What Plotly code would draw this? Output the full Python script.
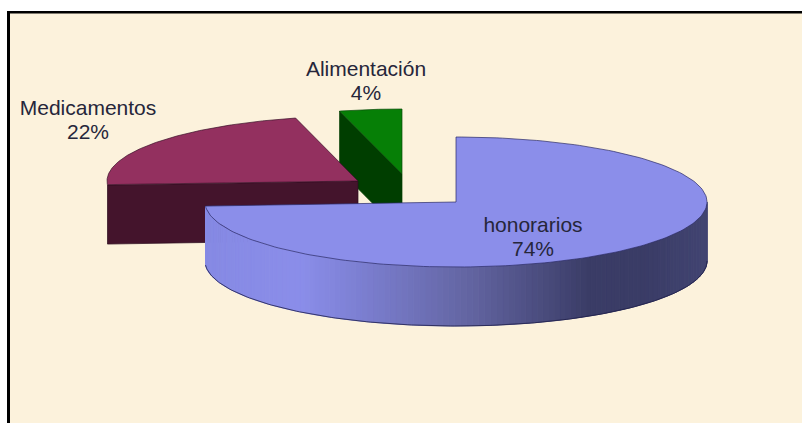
import numpy as np
import plotly.graph_objects as go

categories = ["honorarios", "Medicamentos", "Alimentación"]
values = [74, 22, 4]
top_colors = ["#8B8EEA", "#93305F", "#067F06"]
side_colors = ["#8B8EEA", "#44142C", "#003E00"]

RX, RY, DEPTH = 251, 65, 59
apexes = {"honorarios": (456, 202), "Medicamentos": (358, 181), "Alimentación": (402, 174)}
label_pos = {"honorarios": (533, 227), "Medicamentos": (88, 110), "Alimentación": (366, 71)}
LINE_GAP = 24
BG = "#FCF2DC"
INK = "#26263A"

shade_x = [204, 300, 345, 473, 590, 640, 707]
shade_rgb = [(134, 138, 228), (139, 142, 234), (128, 131, 216), (98, 100, 160), (58, 60, 102), (58, 60, 102), (66, 69, 114)]


def pt(ax, ay, theta):
    t = np.radians(theta)
    return ax + RX * np.sin(t), ay - RY * np.cos(t)


def poly(fig, x, y, fill, line=None, width=0.7):
    fig.add_trace(go.Scatter(x=list(x), y=list(y), mode="lines", fill="toself", fillcolor=fill,
                             line=dict(color=line or fill, width=width), hoverinfo="skip", showlegend=False))


# slice angles, clockwise from 12 o'clock, in the order the pie is stacked
spans = {}
start = 0.0
for c, v in zip(categories, values):
    spans[c] = (start, start + v * 3.6)
    start += v * 3.6

fig = go.Figure()

for name in ["Alimentación", "Medicamentos", "honorarios"]:
    i = categories.index(name)
    ax, ay = apexes[name]
    a, b = spans[name]
    # Cut face that looks toward the viewer
    if name == "Alimentación":
        ex, ey = pt(ax, ay, a)
        poly(fig, [ex, ax, ax, ex, ex], [ey, ay, ay + DEPTH, ey + DEPTH, ey], side_colors[i])
    if name == "Medicamentos":
        ex, ey = pt(ax, ay, a)
        poly(fig, [ex, ax, ax, ex, ex], [ey, ay, ay + DEPTH, ey + DEPTH, ey], side_colors[i], "#2A0C1C")
    # Rim, drawn in strips so that it can carry the shading
    if name == "honorarios":
        th = np.linspace(90, b, 130)
        for t0, t1 in zip(th[:-1], th[1:]):
            x0, y0 = pt(ax, ay, t0)
            x1, y1 = pt(ax, ay, t1)
            rgb = [np.interp((x0 + x1) / 2, shade_x, [s[k] for s in shade_rgb]) for k in range(3)]
            col = "rgb(%d,%d,%d)" % tuple(rgb)
            poly(fig, [x0, x1, x1, x0, x0], [y0, y1, y1 + DEPTH, y0 + DEPTH, y0], col, width=1)
        th = np.linspace(90, b, 200)
        xs, ys = pt(ax, ay, th)
        fig.add_trace(go.Scatter(x=xs, y=ys + DEPTH, mode="lines", line=dict(color="#20204A", width=0.8),
                                 hoverinfo="skip", showlegend=False))
    # Top face
    th = np.linspace(a, b, 200)
    xs, ys = pt(ax, ay, th)
    poly(fig, np.r_[ax, xs, ax], np.r_[ay, ys, ay], top_colors[i],
         {"honorarios": "#2A2A66", "Medicamentos": "#3A1028", "Alimentación": "#0A4A0A"}[name])

for name in categories:
    x, y = label_pos[name]
    pct = values[categories.index(name)]
    fig.add_trace(go.Scatter(x=[x, x], y=[y, y + LINE_GAP], mode="text", text=[name, f"{pct}%"],
                             textposition="middle center",
                             textfont=dict(family="Liberation Sans", size=21, color=INK),
                             hoverinfo="skip", showlegend=False))

fig.update_layout(
    width=802, height=423, margin=dict(l=0, r=0, t=0, b=0),
    paper_bgcolor="white", plot_bgcolor="white", showlegend=False,
    xaxis=dict(range=[0, 802], visible=False, fixedrange=True),
    yaxis=dict(range=[423, 0], visible=False, fixedrange=True),
    shapes=[
        dict(type="rect", x0=10, x1=802, y0=13, y1=423, fillcolor=BG, line_width=0, layer="below"),
        dict(type="rect", x0=7, x1=10, y0=11, y1=423, fillcolor="black", line_width=0, layer="below"),
        dict(type="rect", x0=7, x1=802, y0=11, y1=13.5, fillcolor="black", line_width=0, layer="below"),
    ],
)
fig.write_html("out.html", config={"displayModeBar": False},
               post_script="document.body.style.margin='0';document.body.style.overflow='hidden';")
